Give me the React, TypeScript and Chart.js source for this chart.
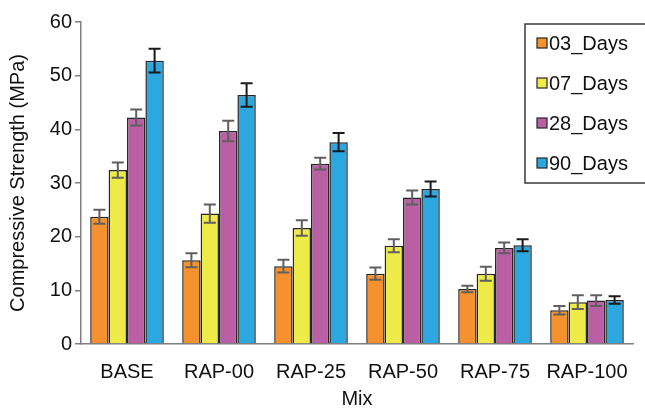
import React, { useEffect, useRef } from "react";
import { Chart, registerables } from "chart.js";

Chart.register(...registerables);

const categories = ["BASE", "RAP-00", "RAP-25", "RAP-50", "RAP-75", "RAP-100"];
const seriesNames = ["03_Days", "07_Days", "28_Days", "90_Days"];
const days03 = [23.7, 15.6, 14.5, 13.1, 10.25, 6.3];
const days07 = [32.4, 24.3, 21.6, 18.3, 13.1, 7.8];
const days28 = [42.2, 39.7, 33.6, 27.3, 17.9, 8.1];
const days90 = [52.8, 46.4, 37.6, 28.9, 18.4, 8.2];
const err03 = [1.3, 1.3, 1.2, 1.15, 0.6, 0.8];
const err07 = [1.4, 1.7, 1.45, 1.2, 1.3, 1.3];
const err28 = [1.5, 1.9, 1.1, 1.3, 1.0, 1.0];
const err90 = [2.2, 2.2, 1.7, 1.4, 1.1, 0.7];
const yTicks = [0, 10, 20, 30, 40, 50, 60];

const colors = ["#F5922F", "#EEEA48", "#BA5FA3", "#2DA7DF"];
const errColors = ["#5f5f5f", "#5f5f5f", "#5f5f5f", "#1a1a1a"];
const FONT = "'Liberation Sans', Arial, sans-serif";
const FS = 20;

const errorBarPlugin = {
  id: "errorBars",
  afterDatasetsDraw(chart: any) {
    const ctx = chart.ctx;
    const y = chart.scales.y;
    chart.data.datasets.forEach((ds: any, di: number) => {
      const meta = chart.getDatasetMeta(di);
      meta.data.forEach((el: any, i: number) => {
        const v = ds.data[i];
        const e = ds.errors[i];
        const top = y.getPixelForValue(v + e);
        const bot = y.getPixelForValue(v - e);
        const x = el.x;
        ctx.save();
        ctx.strokeStyle = ds.errColor;
        ctx.lineWidth = 2;
        ctx.beginPath();
        ctx.moveTo(x, top);
        ctx.lineTo(x, bot);
        ctx.moveTo(x - 6, top);
        ctx.lineTo(x + 6, top);
        ctx.moveTo(x - 6, bot);
        ctx.lineTo(x + 6, bot);
        ctx.stroke();
        ctx.restore();
      });
    });
  },
};

const legendPlugin = {
  id: "boxLegend",
  afterDraw(chart: any) {
    const ctx = chart.ctx;
    ctx.save();
    ctx.strokeStyle = "#3a3a3a";
    ctx.lineWidth = 1.5;
    ctx.fillStyle = "#ffffff";
    ctx.fillRect(525, 24, 140, 159);
    ctx.strokeRect(525, 24, 140, 159);
    ctx.font = `${FS}px ${FONT}`;
    ctx.textBaseline = "middle";
    chart.data.datasets.forEach((ds: any, i: number) => {
      const cy = 43 + i * 40;
      ctx.fillStyle = ds.backgroundColor;
      ctx.fillRect(537, cy - 5, 10, 10);
      ctx.strokeStyle = "#262626";
      ctx.lineWidth = 1.2;
      ctx.strokeRect(537, cy - 5, 10, 10);
      ctx.fillStyle = "#111111";
      ctx.fillText(ds.label, 549, cy + 1);
    });
    ctx.restore();
  },
};

export default function App() {
  const ref = useRef<HTMLCanvasElement>(null);
  useEffect(() => {
    document.body.style.margin = "0";
    const values = [days03, days07, days28, days90];
    const errs = [err03, err07, err28, err90];
    const chart = new Chart(ref.current!, {
      type: "bar",
      data: {
        labels: categories,
        datasets: seriesNames.map((n, i) => ({
          label: n,
          data: values[i],
          errors: errs[i],
          errColor: errColors[i],
          backgroundColor: colors[i],
          borderColor: "#262626",
          borderWidth: 1.5,
          categoryPercentage: 0.8,
          barPercentage: 1.0,
        })) as any,
      },
      options: {
        animation: false,
        responsive: false,
        layout: { padding: { top: 22, right: 12, left: 0, bottom: 0 } },
        plugins: { legend: { display: false }, tooltip: { enabled: false } },
        scales: {
          x: {
            grid: { display: false },
            border: { color: "#808080", width: 1.5 },
            ticks: { color: "#111", font: { family: FONT, size: FS }, padding: 8 },
            title: { display: true, text: "Mix", color: "#111", font: { family: FONT, size: FS, lineHeight: 1 }, padding: { top: 0, bottom: 0 } },
            afterFit: (s: any) => { s.height = 65; },
          },
          y: {
            min: 0,
            max: 60,
            afterBuildTicks: (s: any) => { s.ticks = yTicks.map((v) => ({ value: v })); },
            grid: { drawOnChartArea: false, tickLength: 6, color: "#808080", lineWidth: 1.5 },
            border: { color: "#808080", width: 1.5 },
            ticks: { color: "#111", font: { family: FONT, size: FS }, padding: 3 },
            title: { display: true, text: "Compressive Strength (MPa)", color: "#111", font: { family: FONT, size: FS }, padding: { top: 6, bottom: 4 } },
            afterFit: (s: any) => { s.width = 81; },
          },
        },
      },
      plugins: [errorBarPlugin, legendPlugin],
    });
    return () => chart.destroy();
  }, []);
  return (
    <div style={{ position: "absolute", left: 0, top: 0, width: 645, height: 409 }}>
      <canvas ref={ref} width={645} height={409} style={{ width: 645, height: 409 }} />
    </div>
  );
}
